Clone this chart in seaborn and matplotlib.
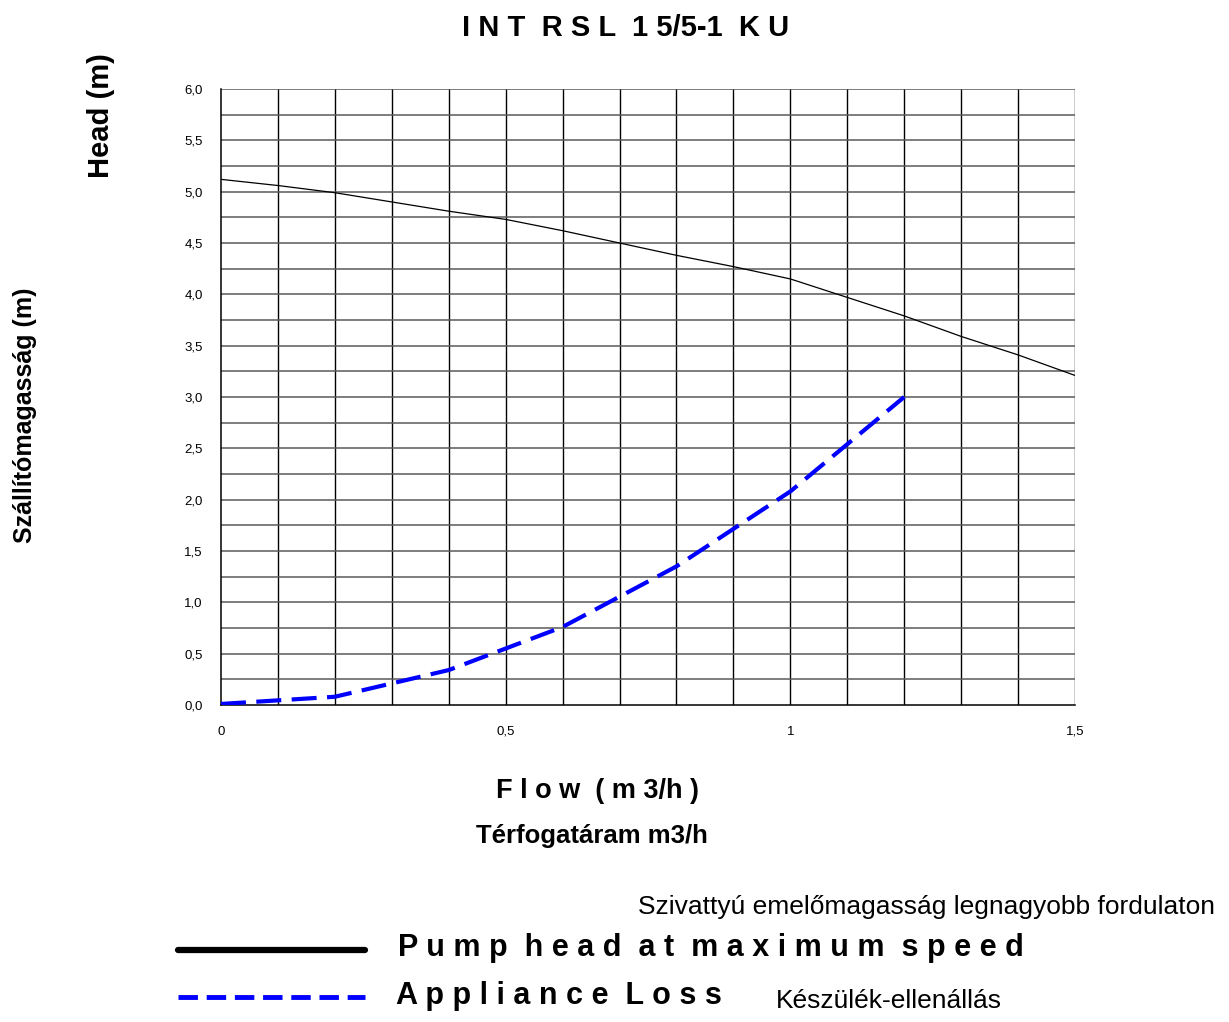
import numpy as np
import pandas as pd
import matplotlib
matplotlib.use("Agg")
import matplotlib.pyplot as plt
import seaborn as sns
from matplotlib.lines import Line2D

# Pump curve at maximum speed
pump_flow = [0.0, 0.1, 0.2, 0.3, 0.4, 0.5, 0.6, 0.7, 0.8, 0.9, 1.0, 1.1, 1.2, 1.3, 1.4, 1.5]
pump_head = [5.12, 5.06, 4.99, 4.90, 4.81, 4.73, 4.62, 4.50, 4.38, 4.27, 4.15, 3.97, 3.79, 3.59, 3.41, 3.21]

# Appliance loss
loss_flow = [0.0, 0.2, 0.4, 0.6, 0.8, 1.0, 1.2]
loss_head = [0.01, 0.08, 0.34, 0.76, 1.35, 2.08, 3.0]

x_ticks = [0, 0.5, 1, 1.5]
x_tick_labels = ["0", "0,5", "1", "1,5"]
y_ticks = [0, 0.5, 1.0, 1.5, 2.0, 2.5, 3.0, 3.5, 4.0, 4.5, 5.0, 5.5, 6.0]

sns.set_style("white")
arial = ["Liberation Sans", "DejaVu Sans"]
plt.rcParams["font.family"] = arial
plt.rcParams["text.color"] = "black"
plt.rcParams["xtick.color"] = "black"
plt.rcParams["ytick.color"] = "black"

fig = plt.figure(figsize=(12.29, 10.22), dpi=100)
ax = fig.add_axes([0.1798, 0.3102, 0.6949, 0.6027])

pump = pd.DataFrame({"flow": pump_flow, "head": pump_head})
loss = pd.DataFrame({"flow": loss_flow, "head": loss_head})

# grid
for gx in np.arange(0.1, 1.55, 0.1):
    ax.axvline(gx, color="black", lw=1.0, zorder=1)
for gy in np.arange(0.25, 6.01, 0.25):
    ax.axhline(gy, color="#5a5a5a", lw=1.1, zorder=1)

sns.lineplot(data=pump, x="flow", y="head", ax=ax, color="black", lw=0.9, zorder=3)
sns.lineplot(data=loss, x="flow", y="head", ax=ax, color="#0000ff", lw=3.0,
             dashes=False, zorder=4)
ax.lines[-1].set_dashes([6, 2.5])

ax.set_xlim(0, 1.5)
ax.set_ylim(0, 6)
ax.set_xticks(x_ticks)
ax.set_xticklabels(x_tick_labels, fontsize=9.5)
ax.set_yticks(y_ticks)
ax.set_yticklabels([f"{v:.1f}".replace(".", ",") for v in y_ticks], fontsize=9.5)
ax.tick_params(axis="both", length=5, width=1, color="black", labelcolor="black",
               direction="out", pad=8)
ax.tick_params(axis="x", pad=10)
ax.set_xlabel("")
ax.set_ylabel("")
for side in ["top", "right"]:
    ax.spines[side].set_visible(False)
for side in ["left", "bottom"]:
    ax.spines[side].set_color("black")
    ax.spines[side].set_linewidth(1.1)

# titles and labels
fig.text(0.509, 0.973, "I N T  R S L  1 5/5-1  K U", ha="center", va="center",
         fontsize=21, fontweight="bold")
fig.text(0.082, 0.887, "Head (m)", rotation=90, ha="center", va="center",
         fontsize=21, fontweight="bold")
fig.text(0.020, 0.594, "Szállítómagasság (m)", rotation=90, ha="center", va="center",
         fontsize=18, fontweight="bold")
fig.text(0.486, 0.226, "F l o w  ( m 3/h )", ha="center", va="center",
         fontsize=19.5, fontweight="bold")
fig.text(0.482, 0.182, "Térfogatáram m3/h", ha="center", va="center",
         fontsize=18.5, fontweight="bold")

# legend
fig.add_artist(Line2D([0.145, 0.297], [0.0705, 0.0705], color="black", lw=4.5))
fig.add_artist(Line2D([0.145, 0.297], [0.0245, 0.0245], color="#0000ff", lw=3.5,
                      dashes=[4, 1.8]))
fig.text(0.989, 0.113, "Szivattyú emelőmagasság legnagyobb fordulaton", ha="right",
         va="center", fontsize=19)
fig.text(0.324, 0.072, "P u m p  h e a d  a t  m a x i m u m  s p e e d", ha="left",
         va="center", fontsize=22, fontweight="bold")
fig.text(0.322, 0.025, "A p p l i a n c e  L o s s", ha="left", va="center",
         fontsize=22, fontweight="bold")
fig.text(0.631, 0.021, "Készülék-ellenállás", ha="left", va="center", fontsize=19)

fig.savefig("out.png", dpi=100)
